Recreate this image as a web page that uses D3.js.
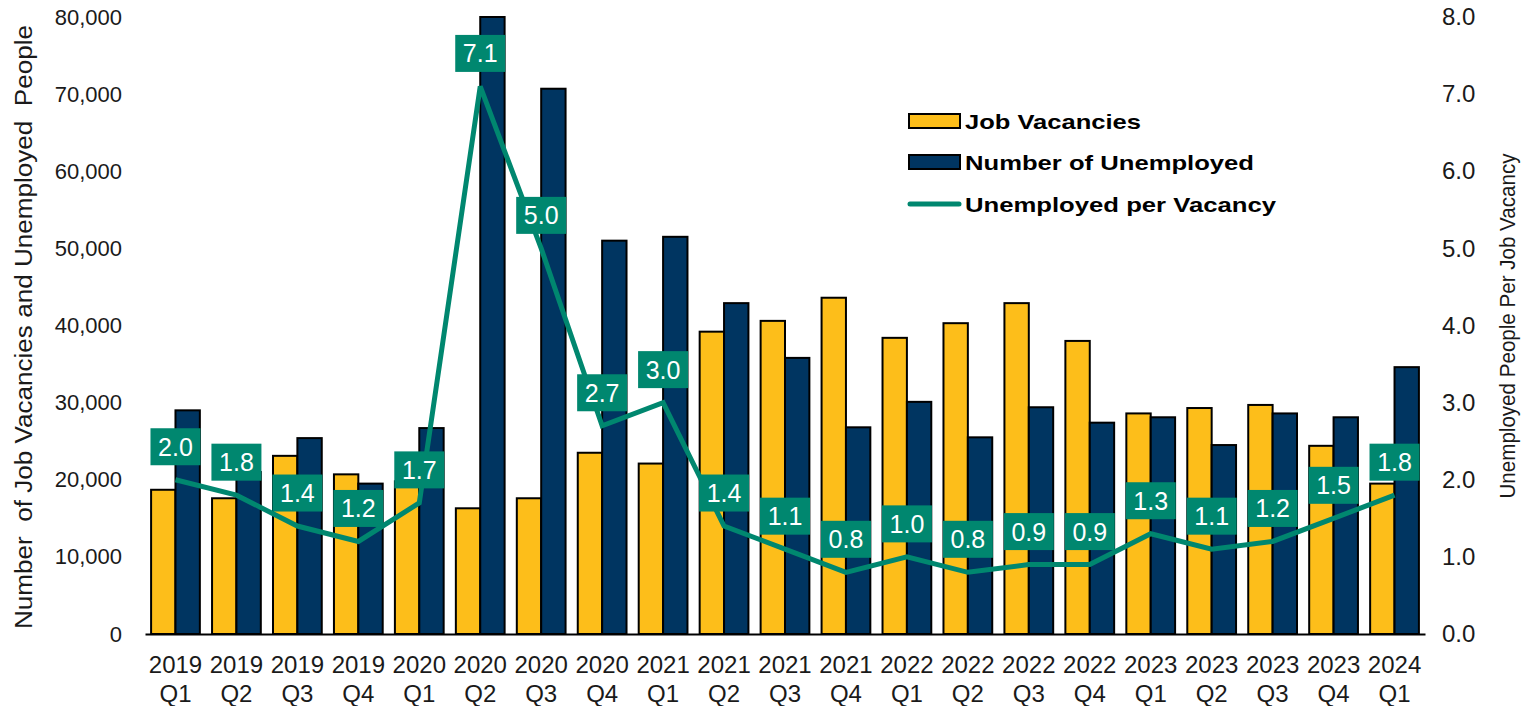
<!DOCTYPE html>
<html>
<head>
<meta charset="utf-8">
<script src="https://cdn.jsdelivr.net/npm/d3@7"></script>
<style>
  html, body { margin: 0; padding: 0; background: #fff; }
  svg { display: block; font-family: "Liberation Sans", Arial, sans-serif; }
</style>
</head>
<body>
<svg id="chart" width="1530" height="706"></svg>
<script>
const years = ["2019","2019","2019","2019","2020","2020","2020","2020","2021","2021","2021","2021","2022","2022","2022","2022","2023","2023","2023","2023","2024"];
const quarters = ["Q1","Q2","Q3","Q4","Q1","Q2","Q3","Q4","Q1","Q2","Q3","Q4","Q1","Q2","Q3","Q4","Q1","Q2","Q3","Q4","Q1"];
const vacancies = [18700, 17600, 23100, 20700, 19800, 16300, 17600, 23500, 22100, 39200, 40600, 43600, 38400, 40300, 42900, 38000, 28600, 29300, 29700, 24400, 19500];
const unemployed = [29000, 21000, 25400, 19500, 26700, 80000, 70700, 51000, 51500, 42900, 35800, 26800, 30100, 25500, 29400, 27400, 28100, 24500, 28600, 28100, 34600];
const ratio = [2.0, 1.8, 1.4, 1.2, 1.7, 7.1, 5.0, 2.7, 3.0, 1.4, 1.1, 0.8, 1.0, 0.8, 0.9, 0.9, 1.3, 1.1, 1.2, 1.5, 1.8];
const leftTicks = [0, 10000, 20000, 30000, 40000, 50000, 60000, 70000, 80000];
const rightTicks = [0, 1, 2, 3, 4, 5, 6, 7, 8];
const seriesNames = ["Job Vacancies", "Number of Unemployed", "Unemployed per Vacancy"];
const leftTitle = "Number  of Job Vacancies and Unemployed  People";
const rightTitle = "Unemployed People Per Job Vacancy";

const colYellow = "#FDBE1A";
const colNavy = "#003561";
const colTeal = "#00876F";

const svg = d3.select("#chart");
const idx = d3.range(years.length);

const x = d3.scaleBand().domain(idx).range([145, 1425]).paddingInner(0).paddingOuter(0);
const xs = d3.scaleBand().domain([0, 1]).range([x.bandwidth() * 0.1, x.bandwidth() * 0.9]);
const yL = d3.scaleLinear().domain([0, 80000]).range([634, 17]);
const yR = d3.scaleLinear().domain([0, 8]).range([634, 17]);

// Left axis
const gL = svg.append("g").attr("transform", "translate(145,0)")
  .call(d3.axisLeft(yL).tickValues(leftTicks).tickFormat(d3.format(",")).tickSize(0).tickPadding(23));
gL.select(".domain").remove();
gL.selectAll("text").attr("font-size", 22).attr("fill", "#1a1a1a").style("font-family", '"Liberation Sans", Arial, sans-serif');

// Right axis
const gR = svg.append("g").attr("transform", "translate(1425,0)")
  .call(d3.axisRight(yR).tickValues(rightTicks).tickFormat(d3.format(".1f")).tickSize(0).tickPadding(17));
gR.select(".domain").remove();
gR.selectAll("text").attr("font-size", 24).attr("fill", "#1a1a1a").style("font-family", '"Liberation Sans", Arial, sans-serif');

// Bars
const groups = svg.append("g").selectAll("g").data(idx).join("g")
  .attr("transform", i => `translate(${x(i)},0)`);
groups.append("rect")
  .attr("x", xs(0)).attr("width", xs.bandwidth())
  .attr("y", i => yL(vacancies[i])).attr("height", i => yL(0) - yL(vacancies[i]))
  .attr("fill", colYellow).attr("stroke", "#000").attr("stroke-width", 2);
groups.append("rect")
  .attr("x", xs(1)).attr("width", xs.bandwidth())
  .attr("y", i => yL(unemployed[i])).attr("height", i => yL(0) - yL(unemployed[i]))
  .attr("fill", colNavy).attr("stroke", "#000").attr("stroke-width", 2);

// X axis
const gX = svg.append("g").attr("transform", "translate(0,634)")
  .call(d3.axisBottom(x).tickSize(0).tickSizeOuter(0).tickPadding(0).tickFormat(() => ""));
gX.select(".domain").attr("stroke", "#000").attr("stroke-width", 2);
gX.selectAll(".tick text").remove();
gX.selectAll(".tick").append("text")
  .attr("text-anchor", "middle").attr("font-size", 24).attr("fill", "#1a1a1a")
  .each(function(i) {
    const t = d3.select(this);
    t.append("tspan").attr("x", 0).attr("y", 39).text(years[i]);
    t.append("tspan").attr("x", 0).attr("y", 68).text(quarters[i]);
  });

// Ratio line
const cx = i => x(i) + x.bandwidth() / 2;
svg.append("path")
  .datum(idx)
  .attr("fill", "none").attr("stroke", colTeal).attr("stroke-width", 5)
  .attr("stroke-linejoin", "miter")
  .attr("d", d3.line().x(i => cx(i)).y(i => yR(ratio[i])));

// Data labels
const fmt1 = d3.format(".1f");
const lab = svg.append("g").selectAll("g").data(idx).join("g")
  .attr("transform", i => `translate(${cx(i)},${yR(ratio[i]) - 33})`);
lab.append("rect").attr("x", -25).attr("y", -18.5).attr("width", 50).attr("height", 37).attr("fill", colTeal);
lab.append("text").attr("text-anchor", "middle").attr("dy", "0.36em")
  .attr("font-size", 25).attr("fill", "#fff").text(i => fmt1(ratio[i]));

// Legend
const leg = svg.append("g");
const legY = [121, 162, 204];
leg.append("rect").attr("x", 909).attr("y", legY[0] - 7).attr("width", 51).attr("height", 14)
  .attr("fill", colYellow).attr("stroke", "#000").attr("stroke-width", 2);
leg.append("rect").attr("x", 909).attr("y", legY[1] - 7).attr("width", 51).attr("height", 14)
  .attr("fill", colNavy).attr("stroke", "#000").attr("stroke-width", 2);
leg.append("line").attr("x1", 910).attr("x2", 959).attr("y1", legY[2]).attr("y2", legY[2])
  .attr("stroke", colTeal).attr("stroke-width", 5).attr("stroke-linecap", "round");
const legW = [176, 289, 311];
leg.selectAll("text").data(seriesNames).join("text")
  .attr("x", 965).attr("y", (d, i) => legY[i]).attr("dy", "0.36em")
  .attr("font-size", 21).attr("font-weight", "bold").attr("fill", "#000")
  .attr("textLength", (d, i) => legW[i]).attr("lengthAdjust", "spacingAndGlyphs")
  .text(d => d);

// Axis titles
svg.append("text")
  .attr("transform", "translate(32,327) rotate(-90)")
  .attr("text-anchor", "middle").attr("font-size", 23).attr("fill", "#1a1a1a")
  .attr("textLength", 604).attr("lengthAdjust", "spacingAndGlyphs")
  .style("white-space", "pre")
  .text(leftTitle);
svg.append("text")
  .attr("transform", "translate(1515,326) rotate(-90)")
  .attr("text-anchor", "middle").attr("font-size", 22).attr("fill", "#1a1a1a")
  .attr("textLength", 345).attr("lengthAdjust", "spacingAndGlyphs")
  .text(rightTitle);
</script>
</body>
</html>
